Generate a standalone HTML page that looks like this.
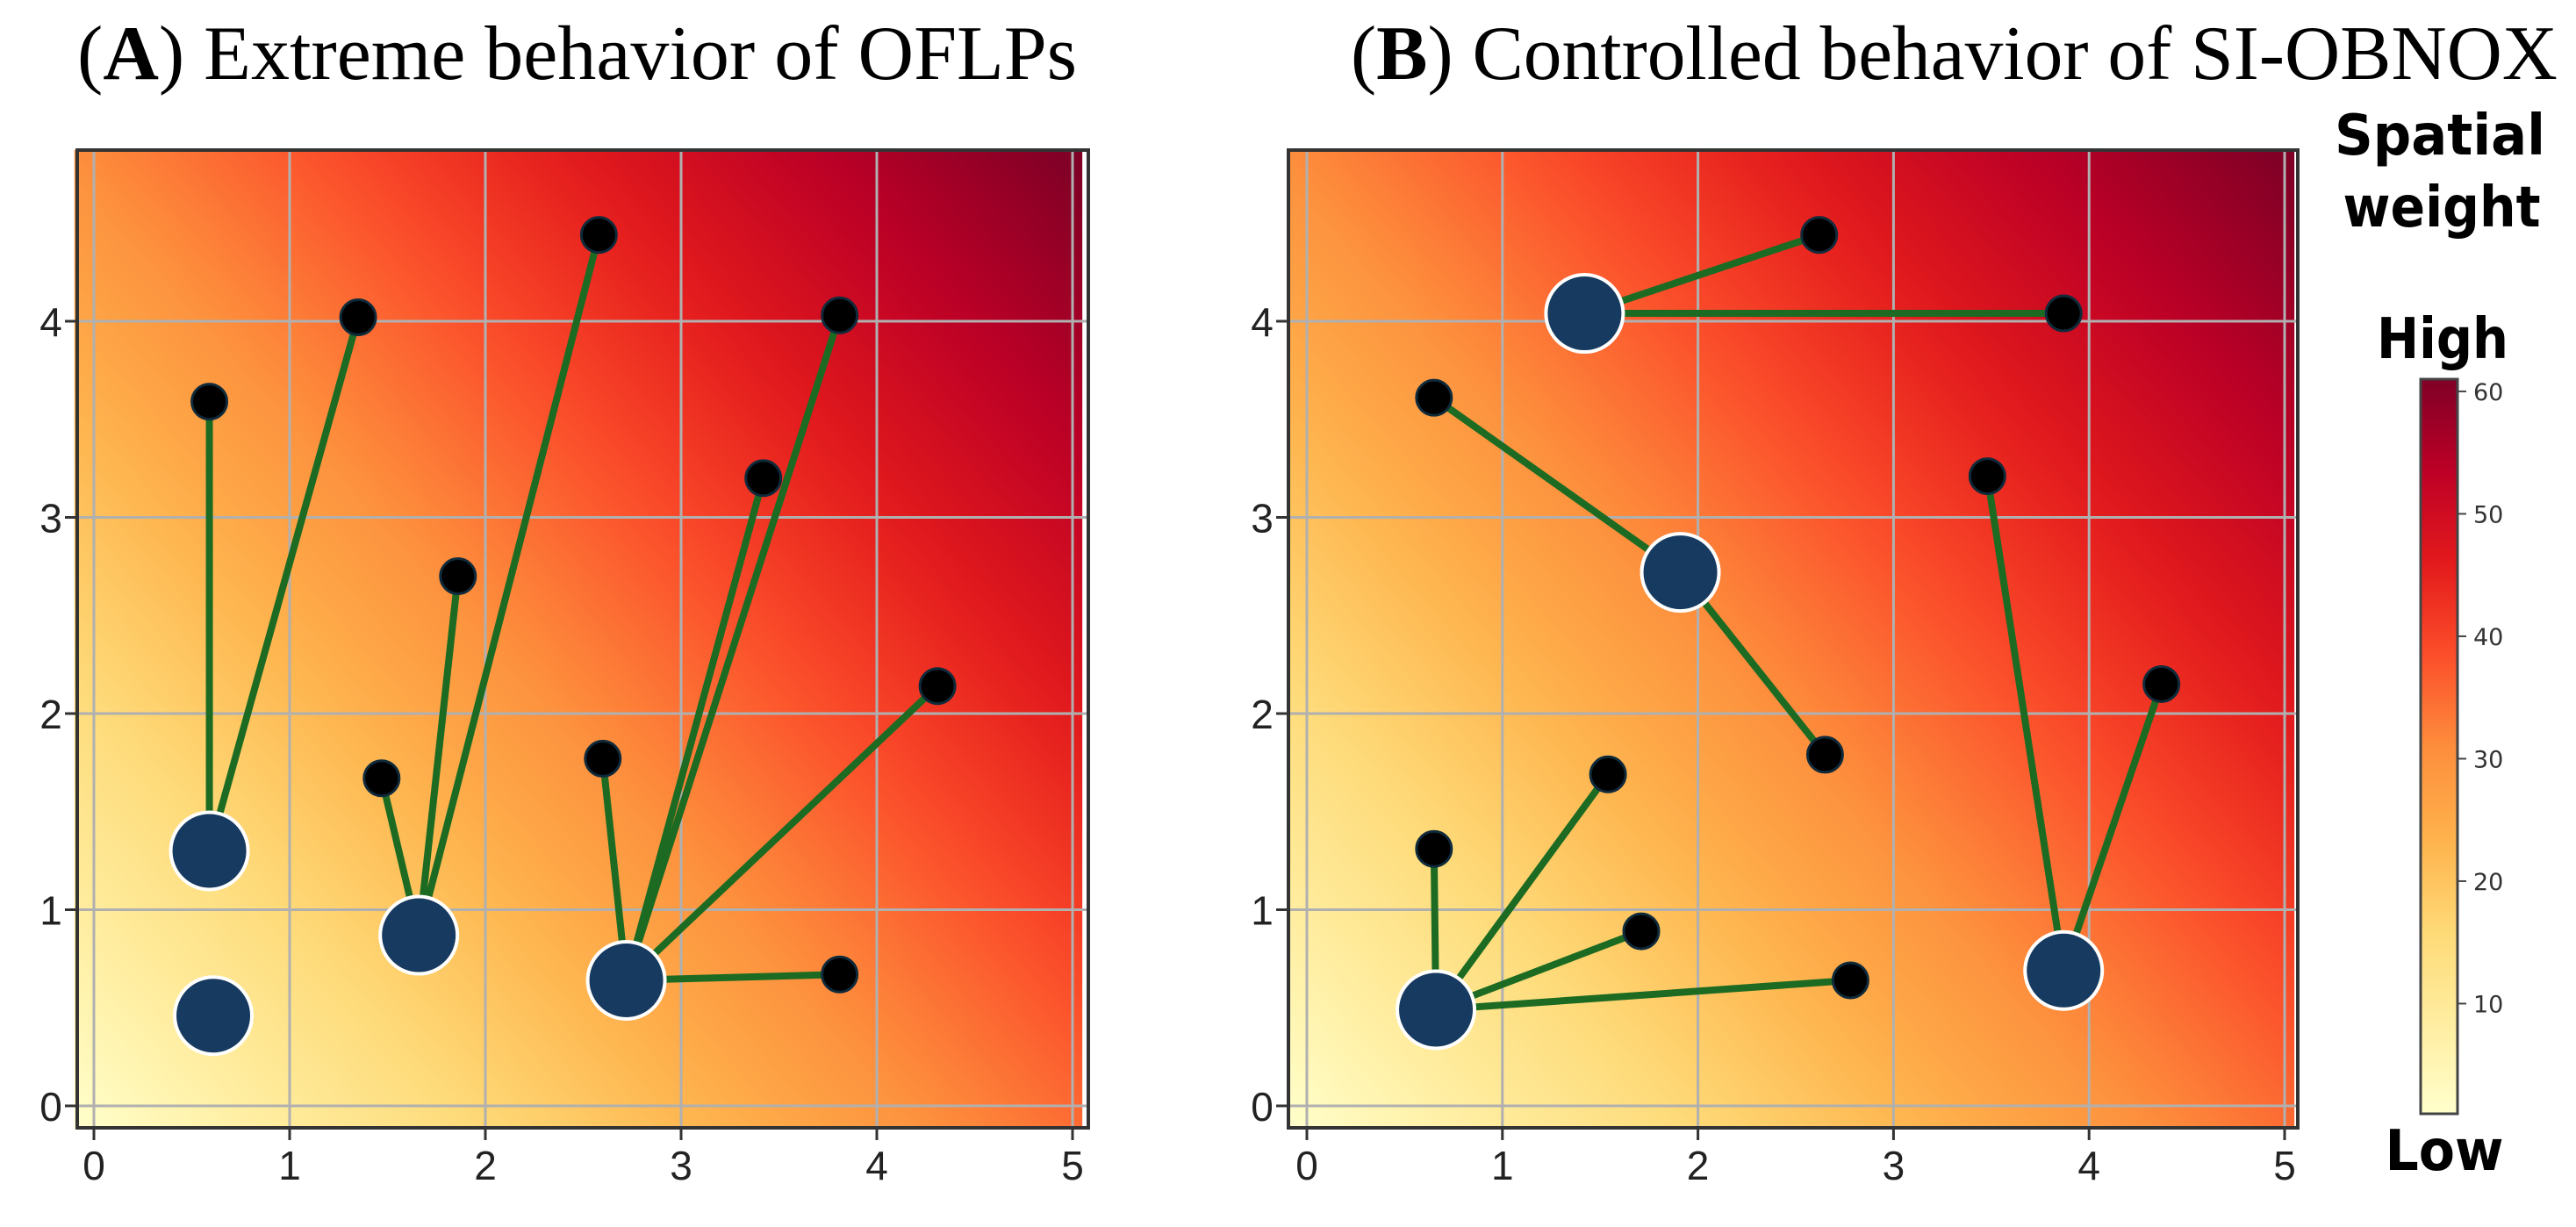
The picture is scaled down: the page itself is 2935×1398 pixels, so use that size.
<!DOCTYPE html>
<html><head><meta charset="utf-8"><style>
html,body{margin:0;padding:0;background:#fff;width:2935px;height:1398px;overflow:hidden}
svg{display:block}
</style></head><body>
<svg id="fig" width="2935" height="1398" viewBox="0 0 2935 1398" xmlns="http://www.w3.org/2000/svg">
<defs id="defs"></defs>
<text x="88" y="90" font-family="Liberation Serif, serif" font-size="88" textLength="1139" lengthAdjust="spacingAndGlyphs">(<tspan font-weight="bold">A</tspan>) Extreme behavior of OFLPs</text>
<text x="1539" y="90" font-family="Liberation Serif, serif" font-size="88" textLength="1375" lengthAdjust="spacingAndGlyphs">(<tspan font-weight="bold">B</tspan>) Controlled behavior of SI-OBNOX</text>
<text x="2780" y="176" text-anchor="middle" font-family="DejaVu Sans, sans-serif" font-weight="bold" font-size="64" textLength="240" lengthAdjust="spacingAndGlyphs">Spatial</text>
<text x="2782" y="258" text-anchor="middle" font-family="DejaVu Sans, sans-serif" font-weight="bold" font-size="64" textLength="225" lengthAdjust="spacingAndGlyphs">weight</text>
<text x="2783" y="408" text-anchor="middle" font-family="DejaVu Sans, sans-serif" font-weight="bold" font-size="64" textLength="150" lengthAdjust="spacingAndGlyphs">High</text>
<text x="2785" y="1333" text-anchor="middle" font-family="DejaVu Sans, sans-serif" font-weight="bold" font-size="64" textLength="135" lengthAdjust="spacingAndGlyphs">Low</text>
<g id="plots"></g>
</svg>
<script>
// ---- data ----
const xTicks = [0,1,2,3,4,5];
const yTicks = [0,1,2,3,4];
const cbTicks = [10,20,30,40,50,60];
const cbMin = 1, cbMax = 61;
// Panel A
const aDemandX = [0.59,1.35,2.58,3.81,3.42,1.86,4.31,1.47,2.60,3.81];
const aDemandY = [3.59,4.02,4.44,4.03,3.20,2.70,2.14,1.67,1.77,0.67];
const aFacX = [0.59,0.61,1.66,2.72];
const aFacY = [1.30,0.46,0.87,0.64];
const aAssign = [0,0,2,3,3,2,3,2,3,3];
// Panel B
const bDemandX = [2.62,3.87,0.65,3.48,4.37,2.65,1.54,0.65,1.71,2.78];
const bDemandY = [4.44,4.04,3.61,3.21,2.15,1.79,1.69,1.31,0.89,0.64];
const bFacX = [1.42,1.91,3.87,0.66];
const bFacY = [4.04,2.72,0.69,0.49];
const bAssign = [0,0,1,2,2,1,3,3,3,3];

const cmap = ['#ffffcc','#ffeda0','#fed976','#feb24c','#fd8d3c','#fc4e2a','#e31a1c','#bd0026','#800026'];
const NS='http://www.w3.org/2000/svg';
const defs=document.getElementById('defs'), root=document.getElementById('plots');
function mk(tag,attrs,parent){const e=document.createElementNS(NS,tag);for(const k in attrs)e.setAttribute(k,attrs[k]);(parent||root).appendChild(e);return e;}
function hex(c){return [1,3,5].map(i=>parseInt(c.substr(i,2),16));}
function cm(t){t=Math.max(0,Math.min(1,t));const p=t*(cmap.length-1);const i=Math.min(cmap.length-2,Math.floor(p));const f=p-i;
  const a=hex(cmap[i]),b=hex(cmap[i+1]);return 'rgb('+a.map((v,k)=>Math.round(v+(b[k]-v)*f)).join(',')+')';}

const Y0=1260, UNIT_Y=223.5;
function yPix(v){return Y0-v*UNIT_Y;}

function panel(id,x0,unit,dX,dY,fX,fY,asg,left,right){
  const g=mk('g',{});
  
  
  const xp=v=>x0+v*unit;
  const top=171, bottom=1285;
  const gr=mk('linearGradient',{id:'hm'+id,gradientUnits:'userSpaceOnUse',
    x1:xp(-0.1),y1:yPix(-0.12),x2:xp(-0.1+5.3),y2:yPix(-0.12+4.7)},defs);
  for(let s=0;s<=24;s++){const fr=s/24;mk('stop',{offset:fr,'stop-color':cm(Math.pow(fr,0.93))},gr);}
  const hm=mk('rect',{x:xp(-0.1),y:top,width:xp(5.05)-xp(-0.1),height:yPix(-0.12)-top,fill:'url(#hm'+id+')'},g);
  
  
  xTicks.forEach(t=>{const l=mk('line',{x1:xp(t),x2:xp(t),y1:top,y2:bottom,stroke:'#b0b0b0','stroke-width':3},g);
    
    });
  yTicks.forEach(t=>{const l=mk('line',{x1:left,x2:right,y1:yPix(t),y2:yPix(t),stroke:'#b0b0b0','stroke-width':3},g);
    
    });
  dX.forEach((x,i)=>{const f=asg[i];
    const l=mk('line',{x1:xp(fX[f]),y1:yPix(fY[f]),x2:xp(x),y2:yPix(dY[i]),stroke:'#1d6b22','stroke-width':8},g);
    
    });
  dX.forEach((x,i)=>{const c=mk('circle',{cx:xp(x),cy:yPix(dY[i]),r:20,fill:'#000','stroke':'#0f2a3a','stroke-width':3},g);
    
    });
  fX.forEach((x,i)=>{const c=mk('circle',{cx:xp(x),cy:yPix(fY[i]),r:44,fill:'#173a60',stroke:'#fff','stroke-width':4},g);
    
    });
  const sp=mk('rect',{x:left,y:top,width:right-left,height:bottom-top,fill:'none',stroke:'#333','stroke-width':4},g);
  
  
  xTicks.forEach(t=>{mk('line',{x1:xp(t),x2:xp(t),y1:bottom,y2:bottom+14,stroke:'#333','stroke-width':3},g);
    const tx=mk('text',{x:xp(t),y:1344,'text-anchor':'middle','font-family':'Liberation Sans, sans-serif','font-size':46,fill:'#222'},g);
    tx.textContent=t;
    
    });
  yTicks.forEach(t=>{mk('line',{x1:left-14,x2:left,y1:yPix(t),y2:yPix(t),stroke:'#333','stroke-width':3},g);
    const tx=mk('text',{x:left-30,y:yPix(t)+17,'text-anchor':'middle','font-family':'Liberation Sans, sans-serif','font-size':46,fill:'#222'},g);
    tx.textContent=t;
    
    });
}
panel('a',107,223,aDemandX,aDemandY,aFacX,aFacY,aAssign,88,1240);
panel('b',1489,222.8,bDemandX,bDemandY,bFacX,bFacY,bAssign,1468,2618);

const cbTop=432, cbBot=1269, cbL=2758, cbR=2800;
const cbY=v=>cbBot-(v-cbMin)/(cbMax-cbMin)*(cbBot-cbTop);
const cg=mk('linearGradient',{id:'cbg',x1:0,y1:1,x2:0,y2:0},defs);
cmap.forEach((c,i)=>mk('stop',{offset:i/(cmap.length-1),'stop-color':c},cg));
const cb=mk('rect',{x:cbL,y:cbTop,width:cbR-cbL,height:cbBot-cbTop,fill:'url(#cbg)',stroke:'#444','stroke-width':3});


cbTicks.forEach(t=>{mk('line',{x1:cbR,x2:cbR+10,y1:cbY(t),y2:cbY(t),stroke:'#444','stroke-width':2});
  const tx=mk('text',{x:cbR+18,y:cbY(t)+10,'font-family':'DejaVu Sans, sans-serif','font-size':27,fill:'#333'});
  tx.textContent=t;
  
  });
</script>
</body></html>
